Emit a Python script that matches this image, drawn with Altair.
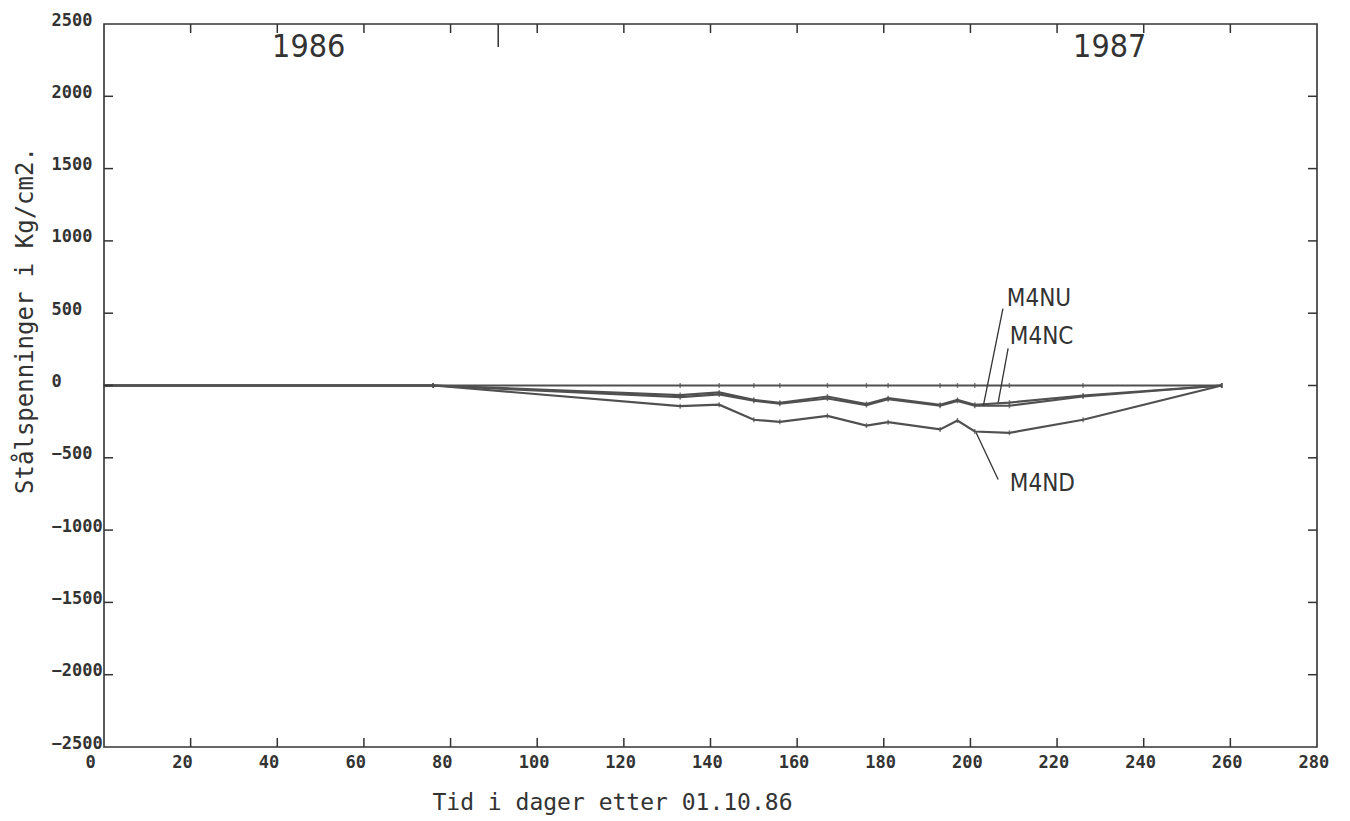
import altair as alt
import pandas as pd

# ---- data ----
days = [0, 76, 133, 142, 150, 156, 167, 176, 181, 193, 197, 201, 209, 226, 258]
m4nu = [0, 0, -81, -62, -105, -126, -90, -135, -95, -140, -106, -140, -140, -76, 0]
m4nc = [0, 0, -66, -48, -99, -120, -76, -128, -88, -133, -99, -133, -118, -69, 0]
m4nd = [0, 0, -143, -133, -237, -251, -210, -277, -254, -304, -242, -318, -327, -237, 0]
zero_series = [0, 0, 0, 0, 0, 0, 0, 0, 0, 0, 0, 0, 0, 0, 0]

x_labels = [0, 20, 40, 60, 80, 100, 120, 140, 160, 180, 200, 220, 240, 260, 280]
x_inner_ticks = [20, 40, 60, 80, 100, 120, 140, 160, 180, 200, 220, 240, 260]
y_labels = [-2500, -2000, -1500, -1000, -500, 0, 500, 1000, 1500, 2000, 2500]
y_inner_ticks = [-2000, -1500, -1000, -500, 0, 500, 1000, 1500, 2000]
year_boundary = [91]

label_text = ["M4NU", "M4NC", "M4ND"]
label_day = [208.4, 209.1, 209.1]
label_val = [595, 332, -678]
leader_day1 = [207.5, 208.7, 206.4]
leader_val1 = [532, 256, -650]
leader_day2 = [203.0, 206.4, 201.3]
leader_val2 = [-138, -118, -325]

year_text = ["1986", "1987"]
year_day = [38.8, 223.7]
year_val = [2341, 2341]

# ---- tables ----
series = {"M4N0": zero_series, "M4NC": m4nc, "M4NU": m4nu, "M4ND": m4nd}
rows = []
for name, vals in series.items():
    for d, v in zip(days, vals):
        rows.append({"day": d, "val": v, "series": name})
df = pd.DataFrame(rows)

W, H = 1213, 723
INK = "#333333"
LINE = "#505050"
MONO = "DejaVu Sans Mono"
NARROW = "'DejaVu Sans Condensed', 'Liberation Sans Narrow', 'DejaVu Sans', sans-serif"

xs = alt.Scale(domain=[0, 280], nice=False, zero=False)
ys = alt.Scale(domain=[-2500, 2500], nice=False, zero=False)

xaxis = alt.Axis(values=x_labels, domain=False, ticks=False, tickSize=0, grid=False,
                 labelAlign="left", labelOffset=-19, labelPadding=7, labelBaseline="top",
                 labelFont=MONO, labelFontSize=17, labelFontWeight="bold", labelColor=INK,
                 labelFlush=False, labelOverlap=False, format="d",
                 title="Tid i dager etter 01.10.86", titleFont=MONO, titleFontSize=23,
                 titleFontWeight="normal", titleColor=INK, titleX=508, titleY=55,
                 titleAlign="center", titleBaseline="middle")
yaxis = alt.Axis(values=y_labels, domain=False, ticks=False, tickSize=0, grid=False,
                 labelAlign="left", labelPadding=53, labelBaseline="middle", labelOffset=-4,
                 labelFont=MONO, labelFontSize=17, labelFontWeight="bold", labelColor=INK,
                 labelFlush=False, labelOverlap=False, format="d",
                 title="Stålspenninger i Kg/cm2.", titleFont=MONO, titleFontSize=24,
                 titleFontWeight="normal", titleColor=INK, titleX=-79, titleY=296,
                 titleAngle=270, titleAlign="center", titleBaseline="middle")


def X(field="day"):
    return alt.X(f"{field}:Q", scale=xs, axis=xaxis)


def Y(field="val"):
    return alt.Y(f"{field}:Q", scale=ys, axis=yaxis)


lines = alt.Chart(df).mark_line(color=LINE, strokeWidth=2.2).encode(
    x=X(), y=Y(), detail="series:N", order="day:Q")
markers = alt.Chart(df).mark_tick(color=LINE, orient="vertical", size=5, thickness=1.5).encode(
    x=X(), y=Y())

xt = pd.DataFrame({"day": x_inner_ticks})
yt = pd.DataFrame({"val": y_inner_ticks})
yb = pd.DataFrame({"day": year_boundary})

bottom_ticks = alt.Chart(xt).mark_rule(color=INK, strokeWidth=1.5).encode(
    x=X(), y=alt.value(H), y2=alt.value(H - 9))
top_ticks = alt.Chart(xt).mark_rule(color=INK, strokeWidth=1.5).encode(
    x=X(), y=alt.value(0), y2=alt.value(9))
year_tick = alt.Chart(yb).mark_rule(color=INK, strokeWidth=1.5).encode(
    x=X(), y=alt.value(0), y2=alt.value(23))
left_ticks = alt.Chart(yt).mark_rule(color=INK, strokeWidth=1.5).encode(
    y=Y(), x=alt.value(0), x2=alt.value(9))
right_ticks = alt.Chart(yt).mark_rule(color=INK, strokeWidth=1.5).encode(
    y=Y(), x=alt.value(W), x2=alt.value(W - 9))

lab_df = pd.DataFrame({"day": label_day, "val": label_val, "text": label_text})
lead_df = pd.DataFrame({"day": leader_day1, "val": leader_val1,
                        "day2": leader_day2, "val2": leader_val2})
year_df = pd.DataFrame({"day": year_day, "val": year_val, "text": year_text})

leaders = alt.Chart(lead_df).mark_rule(color=INK, strokeWidth=1.3).encode(
    x=X(), y=Y(), x2="day2:Q", y2="val2:Q")
labels = alt.Chart(lab_df).mark_text(align="left", baseline="middle", font=NARROW,
                                     fontSize=24, color=INK).encode(
    x=X(), y=Y(), text="text:N")
years = alt.Chart(year_df).mark_text(align="left", baseline="middle", font=NARROW,
                                     fontSize=32, color=INK).encode(
    x=X(), y=Y(), text="text:N")

chart = alt.layer(
    lines, markers, bottom_ticks, top_ticks, year_tick, left_ticks, right_ticks,
    leaders, labels, years
).properties(
    width=W, height=H,
    autosize=alt.AutoSizeParams(type="none"),
    padding={"left": 96, "top": 16, "right": 20, "bottom": 70},
    background="white",
).configure_view(stroke=INK, strokeWidth=1.6)

chart.save("out.html", embed_options={"renderer": "svg", "actions": False})
